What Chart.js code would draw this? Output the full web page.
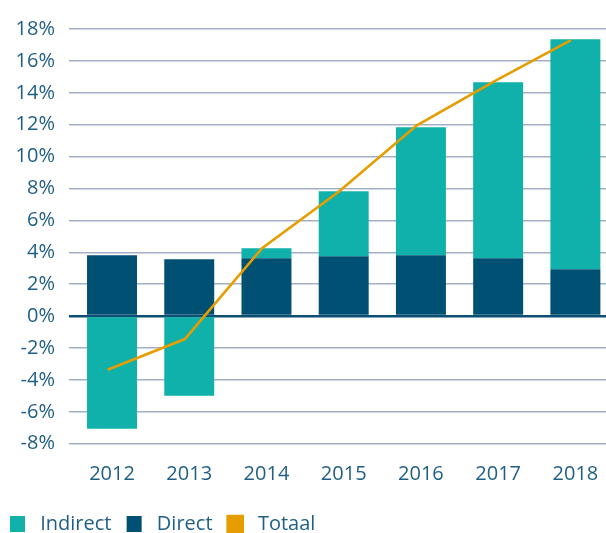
<!DOCTYPE html>
<html>
<head>
<meta charset="utf-8">
<script src="https://cdn.jsdelivr.net/npm/chart.js@4/dist/chart.umd.min.js"></script>
<style>
  html, body { margin: 0; padding: 0; background: #ffffff; overflow: hidden; }
  #wrap { width: 614px; height: 544px; }
</style>
</head>
<body>
<div id="wrap"><canvas id="c" width="614" height="544"></canvas></div>
<script>
const categories = ['2012', '2013', '2014', '2015', '2016', '2017', '2018'];
const indirect = [-7.06, -4.99, 0.63, 4.07, 8.02, 11.03, 14.42];
const direct = [3.82, 3.57, 3.63, 3.76, 3.82, 3.63, 2.94];
const totaal = [-3.36, -1.44, 4.26, 7.83, 11.95, 14.7, 17.3];
const yTicks = [-8, -6, -4, -2, 0, 2, 4, 6, 8, 10, 12, 14, 16, 18];

const textColor = '#1f5f85';
const font = { family: "'Open Sans', sans-serif", size: 20 };

new Chart(document.getElementById('c'), {
  data: {
    labels: categories,
    datasets: [
      { type: 'bar', label: ' Indirect ', data: indirect, backgroundColor: '#0fb1aa', order: 2, stack: 's', grouped: false,
        xAxisID: 'x', yAxisID: 'y', barPercentage: 0.647, categoryPercentage: 1 },
      { type: 'bar', label: ' Direct ', data: direct, backgroundColor: '#005073', order: 1, stack: 's', grouped: false,
        xAxisID: 'x', yAxisID: 'y', barPercentage: 0.647, categoryPercentage: 1 },
      { type: 'line', label: ' Totaal ', data: totaal.map((v, i) => ({ x: i, y: v })), borderColor: '#e59d00',
        backgroundColor: '#e59d00', borderWidth: 2.6, pointRadius: 0, tension: 0, order: 0, xAxisID: 'xl', yAxisID: 'yl' }
    ]
  },
  options: {
    responsive: false,
    animation: false,
    devicePixelRatio: 1,
    layout: { padding: { top: 29, right: 0, left: 0, bottom: 0 } },
    plugins: {
      tooltip: { enabled: false },
      legend: {
        position: 'bottom',
        align: 'start',
        labels: {
          color: textColor,
          font: font,
          boxWidth: 15,
          boxHeight: 16,
          padding: 10,
          sort: (a, b) => a.datasetIndex - b.datasetIndex
        }
      }
    },
    scales: {
      x: {
        stacked: true,
        grid: { display: false },
        border: { display: false },
        ticks: { color: textColor, font: font, padding: 10.5 },
        afterFit: (s) => { s.height += 7.3; }
      },
      xl: {
        type: 'linear', display: false, min: -0.443, max: 6.557
      },
      y: {
        stacked: true,
        min: -8, max: 18,
        afterBuildTicks: (s) => { s.ticks = yTicks.map(v => ({ value: v })); },
        afterFit: (s) => { s.width = 73.4; },
        border: { display: false },
        grid: {
          drawTicks: true,
          tickLength: 4.4,
          color: (c) => c.tick && c.tick.value === 0 ? '#0b4f73' : '#a3b0c4',
          lineWidth: (c) => c.tick && c.tick.value === 0 ? 2.5 : 1.5
        },
        ticks: { color: textColor, font: font, padding: 14, callback: (v) => v + '%' }
      },
      yl: { display: false, min: -8, max: 18 }
    }
  }
});
</script>
</body>
</html>
